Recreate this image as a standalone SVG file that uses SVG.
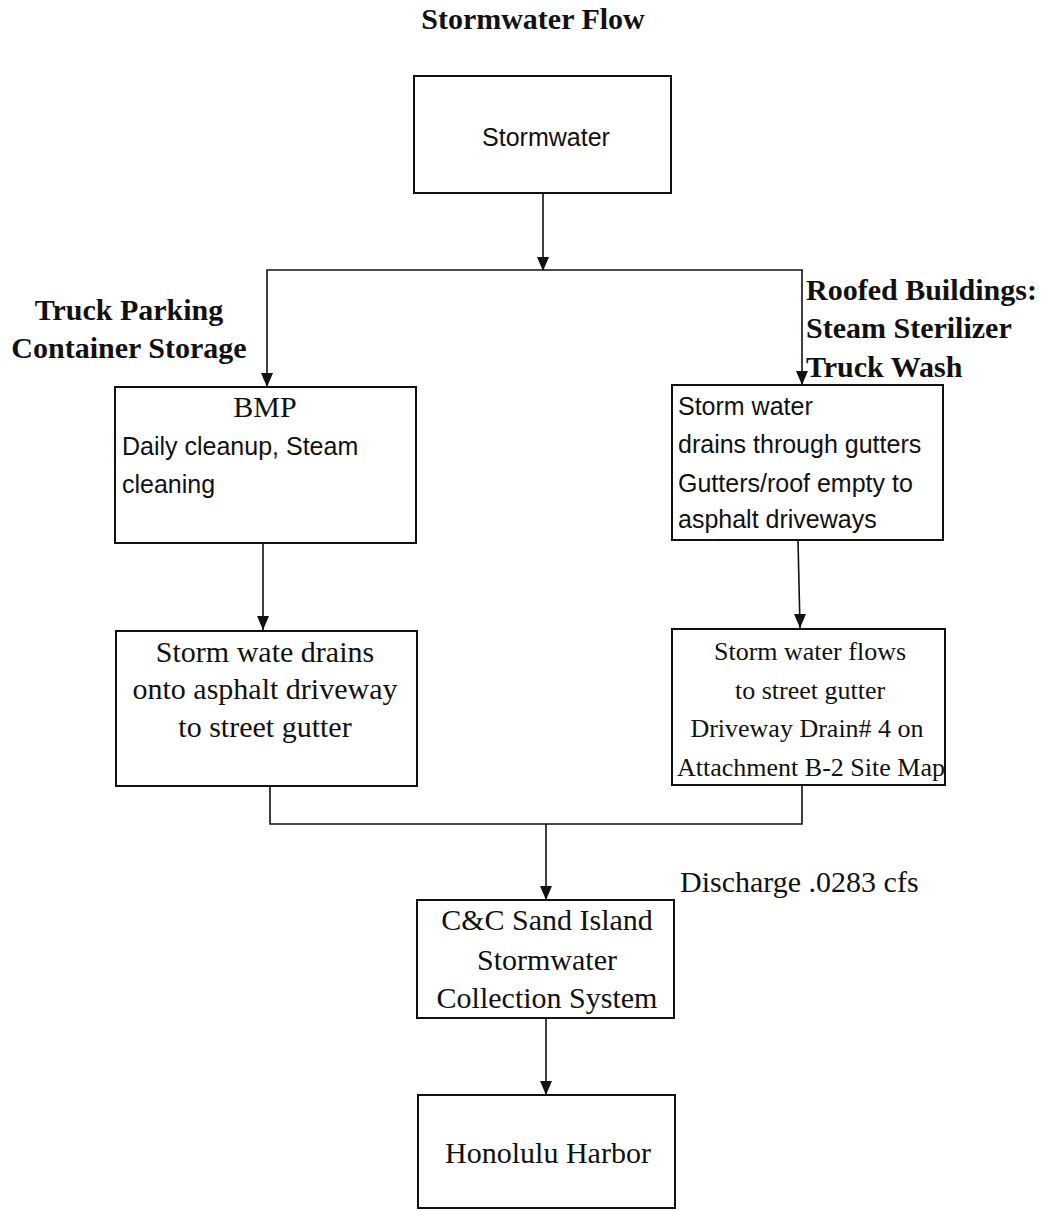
<svg xmlns="http://www.w3.org/2000/svg" width="1045" height="1211" viewBox="0 0 1045 1211">
<style>
.box{fill:#fff;stroke:#111;stroke-width:2}
.ln{fill:none;stroke:#111;stroke-width:1.6}
.ah{fill:#111}
.serif{font-family:"Liberation Serif","Times New Roman",serif;font-size:30px;fill:#111}
.bold{font-family:"Liberation Serif","Times New Roman",serif;font-size:30px;font-weight:bold;fill:#111}
.sans{font-family:"Liberation Sans",Arial,sans-serif;font-size:25px;fill:#111}
.sm{font-size:26px}
</style>
<rect width="1045" height="1211" fill="#fff"/>
<text class="bold" x="533" y="29" text-anchor="middle">Stormwater Flow</text>
<text class="bold" x="129" y="320" text-anchor="middle">Truck Parking</text>
<text class="bold" x="129" y="358" text-anchor="middle">Container Storage</text>
<text class="bold" x="806" y="300">Roofed Buildings:</text>
<text class="bold" x="806" y="338">Steam Sterilizer</text>
<text class="bold" x="806" y="377">Truck Wash</text>
<text class="serif" x="680" y="892">Discharge .0283 cfs</text>
<g id="connectors">
<line class="ln" x1="543" y1="193" x2="543" y2="270"/>
<polyline class="ln" points="267,387 267,270 802,270 802,385"/>
<line class="ln" x1="263" y1="544" x2="263" y2="630"/>
<line class="ln" x1="798" y1="540" x2="800" y2="628"/>
<polyline class="ln" points="270,786 270,824 802,824 802,785"/>
<line class="ln" x1="546" y1="824" x2="546" y2="900"/>
<line class="ln" x1="546" y1="1018" x2="546" y2="1095"/>
<path class="ah" d="M537,257 L549,257 L543,271 Z"/>
<path class="ah" d="M261,373 L273,373 L267,387 Z"/>
<path class="ah" d="M796,371 L808,371 L802,385 Z"/>
<path class="ah" d="M257,616 L269,616 L263,630 Z"/>
<path class="ah" d="M794,614 L806,614 L800,628 Z"/>
<path class="ah" d="M540,886 L552,886 L546,900 Z"/>
<path class="ah" d="M540,1081 L552,1081 L546,1095 Z"/>
</g>
<g id="n-stormwater">
<rect class="box" x="414" y="76" width="257" height="117"/>
<text class="sans" x="546" y="146" text-anchor="middle">Stormwater</text>
</g>
<g id="n-bmp">
<rect class="box" x="115" y="387" width="301" height="156"/>
<text class="serif" x="265" y="417" text-anchor="middle">BMP</text>
<text class="sans" x="122" y="455">Daily cleanup, Steam</text>
<text class="sans" x="122" y="493">cleaning</text>
</g>
<g id="n-roof">
<rect class="box" x="672" y="385" width="271" height="155"/>
<text class="sans" x="678" y="415">Storm water</text>
<text class="sans" x="678" y="453">drains through gutters</text>
<text class="sans" x="678" y="492">Gutters/roof empty to</text>
<text class="sans" x="678" y="528">asphalt driveways</text>
</g>
<g id="n-left-drain">
<rect class="box" x="116" y="631" width="301" height="155"/>
<text class="serif" x="265" y="662" text-anchor="middle">Storm wate drains</text>
<text class="serif" x="265" y="699" text-anchor="middle">onto asphalt driveway</text>
<text class="serif" x="265" y="737" text-anchor="middle">to street gutter</text>
</g>
<g id="n-right-drain">
<rect class="box" x="672" y="629" width="273" height="156"/>
<text class="serif sm" x="810" y="660" text-anchor="middle">Storm water flows</text>
<text class="serif sm" x="810" y="699" text-anchor="middle">to street gutter</text>
<text class="serif sm" x="807" y="737" text-anchor="middle">Driveway Drain# 4 on</text>
<text class="serif sm" x="811" y="776" text-anchor="middle">Attachment B-2 Site Map</text>
</g>
<g id="n-collection">
<rect class="box" x="417" y="900" width="257" height="118"/>
<text class="serif" x="547" y="930" text-anchor="middle">C&amp;C Sand Island</text>
<text class="serif" x="547" y="970" text-anchor="middle">Stormwater</text>
<text class="serif" x="547" y="1008" text-anchor="middle">Collection System</text>
</g>
<g id="n-harbor">
<rect class="box" x="418" y="1095" width="257" height="113"/>
<text class="serif" x="548" y="1163" text-anchor="middle">Honolulu Harbor</text>
</g>
</svg>
